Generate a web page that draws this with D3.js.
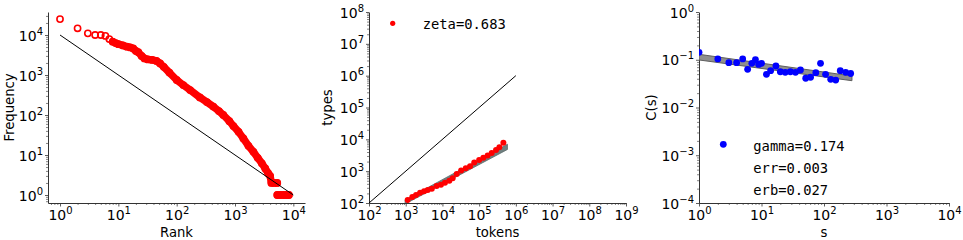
<!DOCTYPE html>
<html>
<head>
<meta charset="utf-8">
<script src="https://cdn.jsdelivr.net/npm/d3@7"></script>
<style>
  body { margin: 0; background: #fff; }
  svg { display: block; font-family: "DejaVu Sans", sans-serif; }
</style>
</head>
<body>
<div id="chart"></div>
<script>
const width = 963;
const height = 240;

// Panel 1: rank / frequency
const zipfRank = [1,2,3,4,5,6,7,8,9,10,12,14,16,18,20,22,25,28,32,38,45,52,60,75,100,130,170,250,330,425,530,630,800,940,1150,1390,1700,2070,2450,2880,3300,3700,4000,4200,4700,5300,5300,6000,6800,7600,8400];
const zipfFreq = [25000,14700,11000,10000,10000,9500,7900,6800,6300,5900,5500,5100,4900,4600,4000,3700,3000,2600,2450,2380,2250,1950,1600,1150,750,560,420,275,210,162,125,100,70,53,38,26,17,12,8.5,6.2,4.6,3.5,3,2,2,2,1,1,1,1,1];
const zipfRefRank = [1, 1e4];
const zipfRefFreq = [1e4, 1];

// Panel 2: tokens / types
const heapsTokens = [1130,1510,1910,2460,3160,3980,5130,6950,9100,11700,15400,19000,24500,32300,43200,56500,73600,100000,130000,170000,220000,288000,355000,457000];
const heapsTypes = [124,154,179,211,233,257,282,343,376,436,504,600,818,1040,1240,1430,1860,2250,2650,3080,3730,4650,5650,7800];
const heapsFitTokens = [960, 590000];
const heapsFitLow = [93, 4800];
const heapsFitHigh = [125, 7000];
const heapsRefTokens = [1e2, 1e6];
const heapsRefTypes = [1e2, 1e6];
const heapsLegend = ["zeta=0.683"];

// Panel 3: s / C(s)
const corrS = [1,2,3,4,5,6,7,8,9,10,12,14,17,20,24,29,35,42,51,61,74,88,106,128,154,182,222,267];
const corrC = [0.143,0.104,0.0867,0.0867,0.104,0.063,0.084,0.1,0.08,0.084,0.0495,0.059,0.074,0.056,0.0545,0.056,0.0545,0.061,0.041,0.043,0.0535,0.084,0.0495,0.039,0.0375,0.059,0.0545,0.0515];
const corrFitS = [1, 280];
const corrFitLow = [0.099, 0.0364];
const corrFitHigh = [0.130, 0.0457];
const corrLegend = ["gamma=0.174", "err=0.003", "erb=0.027"];

const svg = d3.select("#chart")
  .append("svg")
  .attr("width", width)
  .attr("height", height);

const spine = "#333";
const mono = "'DejaVu Sans Mono', monospace";

function decades(scale) {
  const [a, b] = scale.domain().map(Math.log10).sort((m, n) => m - n);
  const out = [];
  for (let k = Math.ceil(a - 1e-9); k <= Math.floor(b + 1e-9); k++) out.push(k);
  return out;
}

function minorTicks(scale) {
  const [a, b] = scale.domain().slice().sort((m, n) => m - n);
  const out = [];
  for (let k = Math.floor(Math.log10(a)) - 1; k <= Math.ceil(Math.log10(b)); k++) {
    for (let m = 2; m <= 9; m++) {
      const v = m * Math.pow(10, k);
      if (v >= a && v <= b) out.push(v);
    }
  }
  return out;
}

function powLabel(sel) {
  sel.each(function (d) {
    const k = Math.round(Math.log10(d));
    const t = d3.select(this).text(null)
      .attr("fill", "#000")
      .attr("font-size", 14)
      .attr("font-family", "DejaVu Sans");
    t.append("tspan").text("10");
    t.append("tspan")
      .attr("dy", -6)
      .attr("font-size", 10)
      .text(k < 0 ? "\u2212" + (-k) : k);
  });
}

function panel(p) {
  const x = d3.scaleLog().domain(p.xd).range([p.x0, p.x1]);
  const y = d3.scaleLog().domain(p.yd).range([p.y1, p.y0]);

  // minor ticks
  svg.append("g")
    .attr("transform", `translate(0,${p.y1})`)
    .call(d3.axisBottom(x).tickValues(minorTicks(x)).tickSize(2).tickSizeOuter(0).tickFormat(""))
    .call(g => g.select(".domain").remove())
    .call(g => g.selectAll("line").attr("stroke", spine).attr("stroke-width", 0.6));
  svg.append("g")
    .attr("transform", `translate(${p.x0},0)`)
    .call(d3.axisLeft(y).tickValues(minorTicks(y)).tickSize(2).tickSizeOuter(0).tickFormat(""))
    .call(g => g.select(".domain").remove())
    .call(g => g.selectAll("line").attr("stroke", spine).attr("stroke-width", 0.6));

  // major ticks
  const xa = svg.append("g")
    .attr("transform", `translate(0,${p.y1})`)
    .call(d3.axisBottom(x)
      .tickValues(decades(x).map(k => Math.pow(10, k)))
      .tickSize(3.5).tickPadding(3.6).tickSizeOuter(0).tickFormat(""));
  xa.select(".domain").attr("stroke", spine).attr("stroke-width", 1);
  xa.selectAll(".tick line").attr("stroke", spine).attr("stroke-width", 0.8);
  xa.selectAll(".tick text").call(powLabel);

  const ya = svg.append("g")
    .attr("transform", `translate(${p.x0},0)`)
    .call(d3.axisLeft(y)
      .tickValues(decades(y).map(k => Math.pow(10, k)))
      .tickSize(3).tickPadding(2).tickSizeOuter(0).tickFormat(""));
  ya.select(".domain").attr("stroke", spine).attr("stroke-width", 1);
  ya.selectAll(".tick line").attr("stroke", spine).attr("stroke-width", 0.8);
  ya.selectAll(".tick text").attr("dy", "0.36em").call(powLabel);

  // axis titles
  svg.append("text")
    .attr("x", (p.x0 + p.x1) / 2)
    .attr("y", 236.5)
    .attr("text-anchor", "middle")
    .attr("font-size", 13.2)
    .text(p.xlab);
  svg.append("text")
    .attr("transform", `translate(${p.ylabX},${(p.y0 + p.y1) / 2}) rotate(-90)`)
    .attr("text-anchor", "middle")
    .attr("font-size", 13.2)
    .text(p.ylab);

  const clipId = "clip" + p.id;
  svg.append("clipPath").attr("id", clipId)
    .append("rect")
    .attr("x", p.x0).attr("y", p.y0)
    .attr("width", p.x1 - p.x0).attr("height", p.y1 - p.y0);
  const plot = svg.append("g").attr("clip-path", `url(#${clipId})`);

  return { x, y, plot };
}

// ---- Panel 1
{
  const { x, y, plot } = panel({
    id: 1, x0: 48, x1: 305, y0: 12, y1: 203,
    xd: [Math.pow(10, -0.206), Math.pow(10, 4.2)],
    yd: [Math.pow(10, -0.2), Math.pow(10, 4.575)],
    xlab: "Rank", ylab: "Frequency", ylabX: 14
  });
  const pts = zipfRank.map((r, i) => ({ r, f: zipfFreq[i] }));
  const line = d3.line().x(d => x(d.r)).y(d => y(d.f));

  // dense stretch where the markers merge into a band
  [pts.filter(d => d.r >= 8 && d.f >= 2), pts.filter(d => d.f === 1)].forEach(seg => {
    plot.append("path")
      .datum(seg)
      .attr("d", line)
      .attr("fill", "none")
      .attr("stroke", "#ff0000")
      .attr("stroke-width", 7.4)
      .attr("stroke-linejoin", "round")
      .attr("stroke-linecap", "round");
  });

  plot.selectAll("circle.z")
    .data(pts)
    .enter()
    .append("circle")
    .attr("cx", d => x(d.r))
    .attr("cy", d => y(d.f))
    .attr("r", 3.1)
    .attr("fill", "none")
    .attr("stroke", "#ff0000")
    .attr("stroke-width", 1.6);

  plot.append("path")
    .datum(zipfRefRank.map((r, i) => ({ r, f: zipfRefFreq[i] })))
    .attr("d", line)
    .attr("fill", "none")
    .attr("stroke", "#000")
    .attr("stroke-width", 1);
}

// ---- Panel 2
{
  const { x, y, plot } = panel({
    id: 2, x0: 369, x1: 626, y0: 12, y1: 203,
    xd: [1e2, 1e9], yd: [1e2, 1e8],
    xlab: "tokens", ylab: "types", ylabX: 332
  });

  plot.append("path")
    .datum(heapsRefTokens.map((t, i) => [t, heapsRefTypes[i]]))
    .attr("d", d3.line().x(d => x(d[0])).y(d => y(d[1])))
    .attr("fill", "none")
    .attr("stroke", "#000")
    .attr("stroke-width", 1);

  const area = d3.area()
    .x(d => x(d.t))
    .y0(d => y(d.lo))
    .y1(d => y(d.hi));
  plot.append("path")
    .datum(heapsFitTokens.map((t, i) => ({ t, lo: heapsFitLow[i], hi: heapsFitHigh[i] })))
    .attr("d", area)
    .attr("fill", "#6f8080")
    .attr("stroke", "#5a6a6a")
    .attr("stroke-width", 0.8);

  plot.selectAll("circle.h")
    .data(heapsTokens.map((t, i) => ({ t, v: heapsTypes[i] })))
    .enter()
    .append("circle")
    .attr("cx", d => x(d.t))
    .attr("cy", d => y(d.v))
    .attr("r", 3)
    .attr("fill", "#ff0000");

  svg.append("circle")
    .attr("cx", 392.7).attr("cy", 23.3).attr("r", 2.6)
    .attr("fill", "#ff0000");
  svg.selectAll("text.leg2")
    .data(heapsLegend)
    .enter()
    .append("text")
    .attr("x", 422.7)
    .attr("y", 28.6)
    .style("font-family", mono)
    .style("font-size", "13.8px")
    .text(d => d);
}

// ---- Panel 3
{
  const { x, y, plot } = panel({
    id: 3, x0: 699, x1: 949, y0: 12, y1: 203,
    xd: [1, 1e4], yd: [1e-4, 1],
    xlab: "s", ylab: "C(s)", ylabX: 655.5
  });

  const area = d3.area()
    .x(d => x(d.s))
    .y0(d => y(d.lo))
    .y1(d => y(d.hi));
  plot.append("path")
    .datum(corrFitS.map((s, i) => ({ s, lo: corrFitLow[i], hi: corrFitHigh[i] })))
    .attr("d", area)
    .attr("fill", "#8f8f8f")
    .attr("stroke", "#5e5e5e")
    .attr("stroke-width", 1);

  plot.selectAll("circle.c")
    .data(corrS.map((s, i) => ({ s, c: corrC[i] })))
    .enter()
    .append("circle")
    .attr("cx", d => x(d.s))
    .attr("cy", d => y(d.c))
    .attr("r", 3.4)
    .attr("fill", "#0000ff");

  svg.append("circle")
    .attr("cx", 723.3).attr("cy", 144.3).attr("r", 3.4)
    .attr("fill", "#0000ff");
  svg.selectAll("text.leg3")
    .data(corrLegend)
    .enter()
    .append("text")
    .attr("x", 753.3)
    .attr("y", (d, i) => 150.8 + i * 22.3)
    .style("font-family", mono)
    .style("font-size", "13.8px")
    .text(d => d);
}
</script>
</body>
</html>
